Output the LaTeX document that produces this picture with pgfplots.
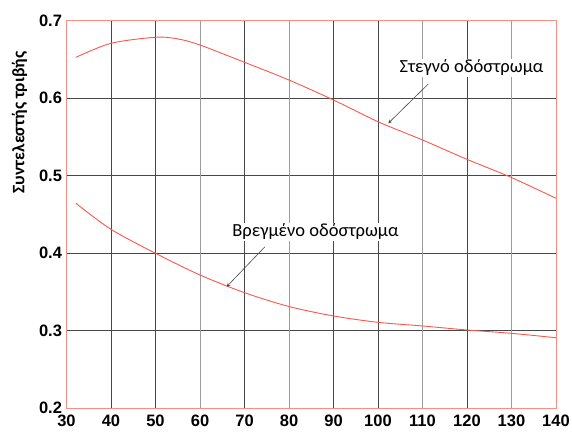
\documentclass[border=0pt]{standalone}
\usepackage{fontspec}
\setmainfont{Carlito}
\newfontfamily\arialfont{Liberation Sans}
\usepackage{pgfplots}
\pgfplotsset{compat=1.18}
\definecolor{frame}{RGB}{255,140,130}
\definecolor{curve}{RGB}{255,85,75}
\definecolor{gdark}{RGB}{70,70,75}
\definecolor{glight}{RGB}{155,155,160}

\begin{document}
\begin{tikzpicture}
  \begin{axis}[
      name=ax,
      scale only axis,
      width=489.5pt, height=387.3pt,
      xmin=30, xmax=140,
      ymin=0.2, ymax=0.7,
      xtick={30,40,50,70,90,100,120,140},
      extra x ticks={60,80,110,130},
      extra x tick style={grid style={glight, line width=0.8pt}},
      ytick={0.2,0.3,0.4,0.5,0.6,0.7},
      major tick length=0pt,
      grid=major,
      grid style={gdark, line width=0.8pt},
      axis line style={frame, line width=0.9pt},
      ticklabel style={font=\arialfont\bfseries\fontsize{16.5}{16.5}\selectfont},
      /pgf/number format/assume math mode=true,
      yticklabel style={xshift=-1pt, /pgf/number format/.cd, fixed, fixed zerofill, precision=1},
      xticklabel style={yshift=-3pt},
      clip=false,
  ]
  % dry pavement
  \addplot[smooth, color=curve, line width=0.9pt] coordinates {
      (32.1,0.6527)(40,0.6708)(50,0.6786)(55,0.6765)(60,0.6686)(70,0.6463)
      (80,0.6234)(90,0.5976)(100,0.5696)(110,0.5460)(120,0.5210)(130,0.4975)(140,0.4707)
  };
  % wet pavement
  \addplot[smooth, color=curve, line width=0.9pt] coordinates {
      (32.1,0.4643)(40,0.4307)(50,0.3997)(60,0.3717)(70,0.3489)(80,0.3310)
      (90,0.3188)(100,0.3106)(110,0.3059)(120,0.3007)(130,0.2964)(140,0.2907)
  };
  \draw[-stealth, gdark, line width=0.6pt] (axis cs:111.3,0.6183) -- (axis cs:102.3,0.5675);
  \draw[-stealth, gdark, line width=0.6pt] (axis cs:74.6,0.4082) -- (axis cs:66.0,0.3566);
  \node[anchor=base, fill=white, inner sep=1pt, font=\fontsize{18.5}{18.5}\selectfont]
      at (axis cs:121.0,0.6329) {Στεγνό οδόστρωμα};
  \node[anchor=base west, fill=white, inner sep=1pt, font=\fontsize{18.5}{18.5}\selectfont]
      at (axis cs:67.0,0.4212) {Βρεγμένο οδόστρωμα};
  \node[rotate=90, font=\bfseries\fontsize{17.5}{17.5}\selectfont]
      at ([xshift=-47pt]rel axis cs:0,0.737) {Συντελεστής τριβής};
  \end{axis}
  \pgfresetboundingbox
  \path ([xshift=-66.5pt,yshift=-24pt]ax.south west) rectangle ([xshift=16pt,yshift=20.7pt]ax.north east);
\end{tikzpicture}
\end{document}
